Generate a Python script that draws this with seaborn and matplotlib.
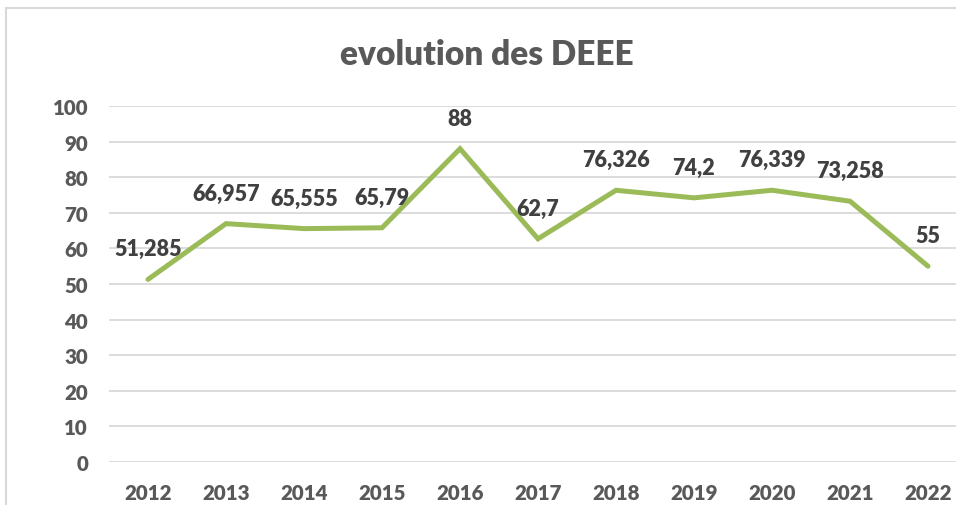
import matplotlib
matplotlib.use('Agg')
import matplotlib.pyplot as plt
import seaborn as sns
import pandas as pd
from matplotlib.patches import Rectangle

# Data
years = ['2012', '2013', '2014', '2015', '2016', '2017', '2018', '2019', '2020', '2021', '2022']
deee = [51.285, 66.957, 65.555, 65.79, 88, 62.7, 76.326, 74.2, 76.339, 73.258, 55]
value_labels = ['51,285', '66,957', '65,555', '65,79', '88', '62,7', '76,326', '74,2', '76,339', '73,258', '55']
y_ticks = [0, 10, 20, 30, 40, 50, 60, 70, 80, 90, 100]

df = pd.DataFrame({'annee': years, 'deee': deee})

sns.set_style('white')
plt.rcParams['font.family'] = ['Lato', 'DejaVu Sans']

fig = plt.figure(figsize=(9.56, 5.06), dpi=100)
ax = fig.add_axes([109 / 956, 43 / 506, 858 / 956, 356 / 506])

sns.lineplot(data=df, x='annee', y='deee', ax=ax, color='#9BBB59', linewidth=3.6,
             solid_joinstyle='miter', solid_capstyle='round', sort=False)

for i, (v, lab) in enumerate(zip(deee, value_labels)):
    ax.annotate(lab, (i, v), xytext=(0, 22), textcoords='offset points',
                ha='center', va='center', fontsize=15.5, fontweight='heavy', color='#404040')

ax.set_xlim(-0.5, 10.5)
ax.set_ylim(0, 100)
ax.set_yticks(y_ticks)
ax.yaxis.grid(True, color='#d9d9d9', linewidth=1.3)
ax.set_axisbelow(True)
for s in ax.spines.values():
    s.set_visible(False)
ax.tick_params(axis='both', length=0, labelsize=14.8, labelcolor='#595959')
ax.tick_params(axis='y', pad=15)
ax.tick_params(axis='x', pad=15)
for t in ax.get_xticklabels() + ax.get_yticklabels():
    t.set_fontweight('heavy')
ax.set_xlabel('')
ax.set_ylabel('')

fig.text(487 / 956, 1 - 55 / 506, 'evolution des DEEE', ha='center', va='center',
         fontsize=24, fontweight='heavy', color='#595959')

fig.patches.append(Rectangle((6 / 956, -0.1), 1.0, 1.1 - 9 / 506, transform=fig.transFigure,
                             fill=False, edgecolor='#d9d9d9', linewidth=1.5))

fig.savefig('out.png', dpi=100, facecolor='white')
